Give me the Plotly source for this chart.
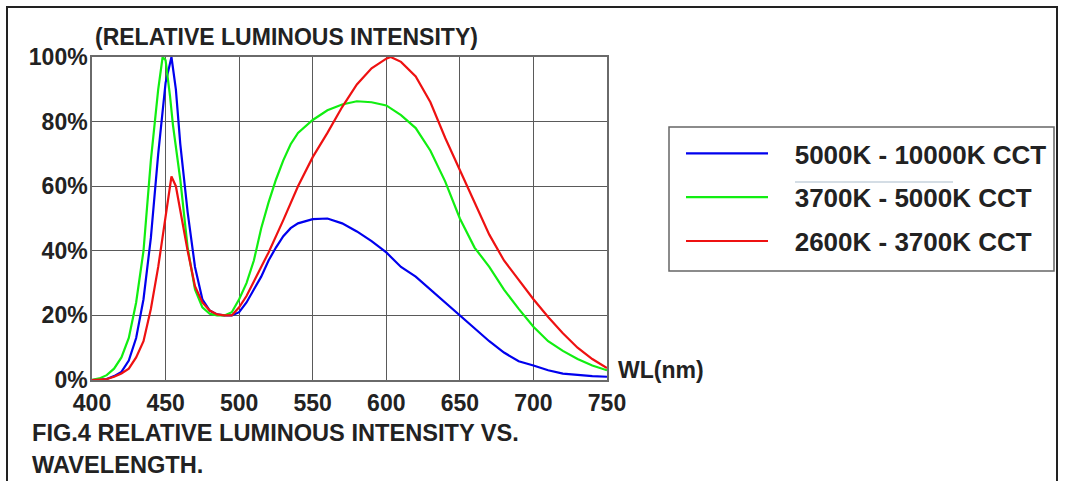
import plotly.graph_objects as go

# ---- data ----
wl_blue = [400, 410, 415, 420, 425, 430, 435, 440, 445, 450, 454, 457, 460, 465, 470, 475, 480, 485, 490, 495,
           500, 505, 510, 515, 520, 525, 530, 535, 540, 550, 560, 570, 580, 590, 600, 610, 620, 630, 640, 650,
           660, 670, 680, 690, 700, 710, 720, 730, 740, 750]
blue = [0, 0.3, 1.2, 2.5, 6, 13, 25, 44, 70, 92, 100, 90, 73, 52, 35, 25, 21.5, 20.3, 20, 20,
        21, 24, 28, 32, 37, 41, 44.5, 47, 48.5, 49.8, 50, 48.5, 46, 43, 39.5, 35, 32, 28, 24, 20,
        16, 12, 8.5, 5.8, 4.5, 3, 2, 1.5, 1.2, 1]

wl_green = [400, 405, 410, 415, 420, 425, 430, 435, 440, 445, 448, 450, 453, 455, 460, 465, 470, 475, 480, 485,
            490, 495, 500, 505, 510, 515, 520, 525, 530, 535, 540, 550, 560, 570, 580, 590, 600, 610, 620, 630,
            640, 650, 660, 670, 680, 690, 700, 710, 720, 730, 740, 750]
green = [0, 0.5, 1.5, 3.5, 7, 13, 24, 40, 68, 90, 100, 99, 88, 79, 62, 41, 28, 22.5, 20.5, 20,
         20, 21, 25, 30, 37, 47, 55, 62, 68, 73, 76.5, 80.5, 83.5, 85.3, 86.3, 86, 85, 82, 78, 71,
         61.5, 50, 41, 35, 28, 22, 16.5, 12, 9, 6.5, 4.5, 3]

wl_red = [400, 410, 415, 420, 425, 430, 435, 440, 445, 450, 454, 457, 460, 465, 470, 475, 480, 485, 490, 495,
          500, 505, 510, 520, 530, 540, 550, 560, 570, 580, 590, 600, 603, 610, 620, 625, 630, 640, 650, 660,
          670, 680, 690, 700, 710, 720, 730, 740, 750]
red = [0, 0.3, 1, 2, 3.5, 7, 12, 22, 35, 50, 63, 60, 52, 40, 29, 24, 21.5, 20.3, 20, 20,
       22.5, 26, 30.5, 39.5, 49.5, 60, 69, 76.5, 84.5, 91.5, 96.5, 99.5, 100, 98.5, 94, 90, 86, 75, 65, 55,
       45, 37, 31, 25, 19.5, 14.5, 10, 6.5, 3.7]

series_names = ["5000K - 10000K CCT", "3700K - 5000K CCT", "2600K - 3700K CCT"]
x_tick_vals = [400, 450, 500, 550, 600, 650, 700, 750]
y_tick_vals = [0, 20, 40, 60, 80, 100]
y_tick_text = ["0%", "20%", "40%", "60%", "80%", "100%"]

# ---- figure ----
W, H = 1067, 481
L, R, T, B = 92, 607, 57, 380
pw, ph = R - L, B - T


def px(xp):
    return (xp - L) / pw


def py(yp):
    return (B - yp) / ph


FONT = "Liberation Sans, Arial, sans-serif"
TXT = "#222222"
GAP = "\u00a0\u00a0\u00a0"  # spacing between legend line sample and its label

fig = go.Figure()
colors = ["#0000ee", "#11ee11", "#ee1111"]
for i, (xs, ys) in enumerate([(wl_blue, blue), (wl_green, green), (wl_red, red)]):
    fig.add_trace(go.Scatter(
        x=xs, y=ys, mode="lines", name=GAP + series_names[i],
        line=dict(color=colors[i], width=2.2),
        legendgroup=f"g{i}", cliponaxis=False,
    ))

fig.update_layout(
    width=W, height=H, autosize=False,
    margin=dict(l=L, r=W - R, t=T, b=H - B, pad=0),
    paper_bgcolor="white", plot_bgcolor="white",
    font=dict(family=FONT, color=TXT, size=23, weight="bold"),
    showlegend=True,
    legend=dict(
        x=px(681), y=py(130), xanchor="left", yanchor="top",
        borderwidth=0, bgcolor="rgba(0,0,0,0)",
        font=dict(family=FONT, size=26, color=TXT, weight="bold"),
        itemwidth=82, tracegroupgap=7, traceorder="grouped",
    ),
    xaxis=dict(
        range=[400, 750], tickvals=x_tick_vals, showgrid=True,
        gridcolor="#5a5a5a", gridwidth=1.3, zeroline=False,
        showline=True, linecolor="#6a6a6a", linewidth=1.5, mirror=True,
        ticks="", ticklabelstandoff=2,
        tickfont=dict(family=FONT, size=23, color=TXT, weight="bold"),
    ),
    yaxis=dict(
        range=[0, 100], tickvals=y_tick_vals, ticktext=y_tick_text, showgrid=True,
        gridcolor="#5a5a5a", gridwidth=1.3, zeroline=False,
        showline=True, linecolor="#6a6a6a", linewidth=1.5, mirror=True,
        ticks="", ticklabelstandoff=-2,
        tickfont=dict(family=FONT, size=23, color=TXT, weight="bold"),
    ),
)

ann_font = dict(family=FONT, size=23, color=TXT, weight="bold")
cap_font = dict(family=FONT, size=23.6, color=TXT, weight="bold")
fig.add_annotation(text="(RELATIVE LUMINOUS INTENSITY)", xref="paper", yref="paper",
                   x=px(93), y=py(37), xanchor="left", yanchor="middle", showarrow=False, font=ann_font)
fig.add_annotation(text="WL(nm)", xref="paper", yref="paper",
                   x=px(616), y=py(370), xanchor="left", yanchor="middle", showarrow=False, font=ann_font)
fig.add_annotation(text="FIG.4 RELATIVE LUMINOUS INTENSITY VS.", xref="paper", yref="paper",
                   x=px(30), y=py(433), xanchor="left", yanchor="middle", showarrow=False, font=cap_font)
fig.add_annotation(text="WAVELENGTH.", xref="paper", yref="paper",
                   x=px(30), y=py(465), xanchor="left", yanchor="middle", showarrow=False, font=cap_font)

# outer frame of the figure
fig.add_shape(type="rect", xref="paper", yref="paper",
              x0=px(7), x1=px(1057), y0=py(495), y1=py(7),
              line=dict(color="#222222", width=2), fillcolor="rgba(0,0,0,0)", layer="below")
# legend frame
fig.add_shape(type="rect", xref="paper", yref="paper",
              x0=px(669), x1=px(1054), y0=py(271), y1=py(127),
              line=dict(color="#666666", width=1.5), fillcolor="rgba(0,0,0,0)", layer="above")
# faint scan line inside legend
fig.add_shape(type="line", xref="paper", yref="paper",
              x0=px(795), x1=px(953), y0=py(182), y1=py(182),
              line=dict(color="#a9bccb", width=1.2), layer="above")

fig.write_html("out.html")
